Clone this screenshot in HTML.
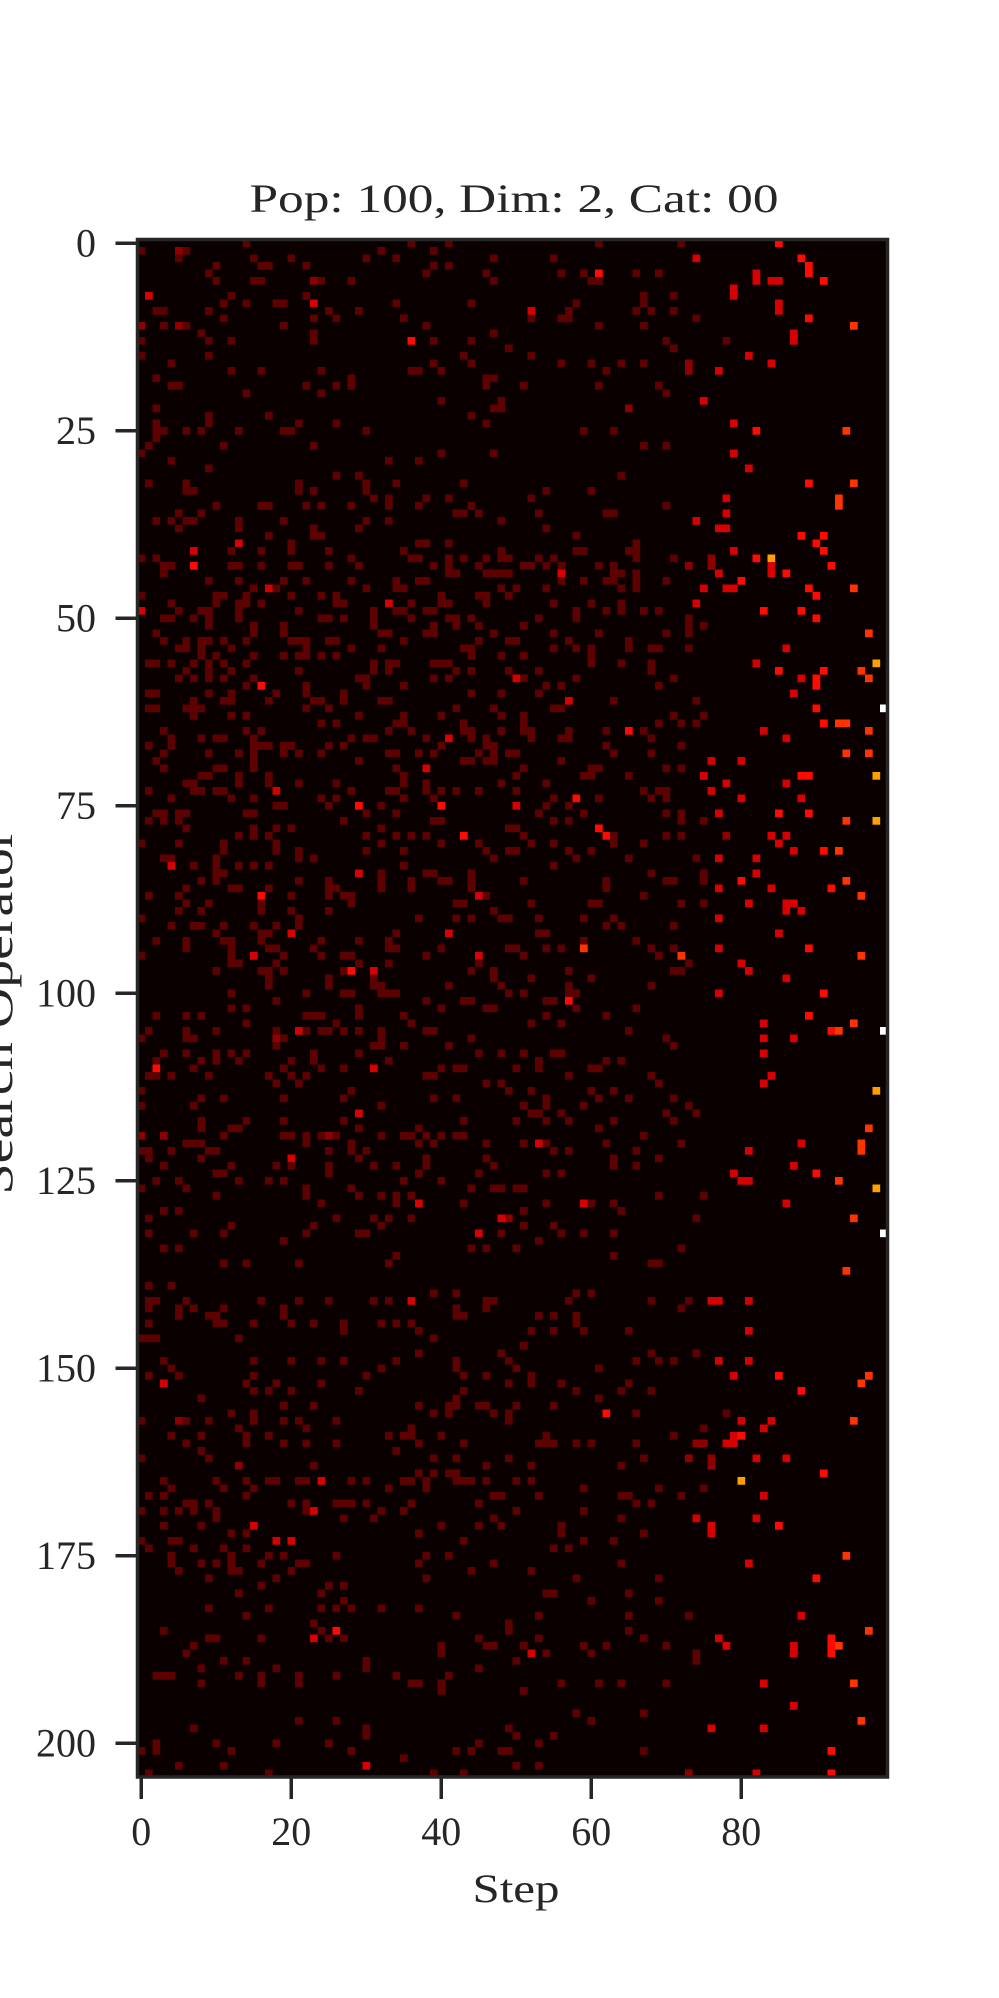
<!DOCTYPE html>
<html><head><meta charset="utf-8"><title>Heatmap</title>
<style>html,body{margin:0;padding:0;background:#fff}svg{display:block}</style></head>
<body>
<svg id="chart" width="999" height="1998" viewBox="0 0 999 1998" xmlns="http://www.w3.org/2000/svg" font-family="'Liberation Serif', serif" fill="#262626">
<rect x="0" y="0" width="999" height="1998" fill="#ffffff"/>
<text x="514" y="212" font-size="40" text-anchor="middle" textLength="529" lengthAdjust="spacingAndGlyphs">Pop: 100, Dim: 2, Cat: 00</text>
<g id="plot"></g>
<g id="yaxis"></g>
<g id="xaxis"></g>
<text x="516" y="1902" font-size="40" text-anchor="middle" textLength="87" lengthAdjust="spacingAndGlyphs">Step</text>
<text x="0" y="0" font-size="44" text-anchor="middle" textLength="365" lengthAdjust="spacingAndGlyphs" transform="translate(12,1012) rotate(-90)">Search Operator</text>
</svg>
<script>
const nSteps = 100;
const nOps = 205;
const xTicks = [0, 20, 40, 60, 80];
const yTicks = [0, 25, 50, 75, 100, 125, 150, 175, 200];
const levelColors = ['#0a0000','#5c0000','#8e0000','#d60000','#ff0a00','#ff3300','#ffa000','#ffffff'];
// cells per operator row: "step" (level 1) or "step:level"
const rowCells = [
"14 36 41 61 72 85:4",
"0 5:2 6 32 39",
"5 15 20 30 34 47 55 74:3 88:4",
"10 16 17 22 39 41 89:4",
"9 38 46 56 59 61:4 66 69 82:3 89:4",
"10 15 16 23:2 24 28 47 60 61 82:3 84:3 85:3 91:4",
"79:3",
"1:3 12 22 67 71 79:3",
"11 14 18 19 23:3 34 44 58 67 85:3",
"2 3 9 25 29 52:3 57 66 68 71 85:3",
"11 23 26 35 52 56 57 74 89:4",
"0:2 3 5:2 6 19 38 61 67 95:5",
"8 23 47 87:3",
"0 9 12 23 36:4 39 44 70 78 87:3",
"49 71",
"0 9 43 52 81:3",
"4 39 44 56 60 64 67 73:2 84:3",
"12 16 24 36 37 40 62 73:2 77:3",
"2 28 46 47",
"4 5 22 26 28 46 51 61 69",
"14 24 70",
"40 48 75:3",
"2 47 48 65:2",
"9 17 44",
"2 9 21 26 46 79:3",
"2 3 6 8 13 19 20 30 59 63 82:4 94:5",
"2",
"1 11 23 67 70",
"0 40 47 79:3",
"4 33 37",
"9 81:3",
"26 29 64",
"1 6 21 30 34 43 89:4 95:5",
"6 7 21 23 30 54 60",
"31 33 38 41 52 78:3 93:5",
"10 16 17 22 24 28 33 37 44 70 93:5",
"5 8 42 43 45 53 62 63 78:3",
"2 4 6 7 13 19 30 33 48 74:3",
"5 13 23 29 54 77:3 78:3",
"17 23 24 58 88:4 91:4",
"13:3 20 37 38 41 66 90:4",
"7:3 12 16 20 25 35 48 58 59 65 66 79:3 91:4",
"0 2 28 36 37 41 43 46 48 49 53 55 66 71 76:2 82:4 84:6",
"3 4 7:4 12 13 16 20 21 25 29 39 41 45 51 52 54 56 61 63 73:2 76:2 84:3 92:4",
"3 41 42 46 47 48 49 56:3 63 64 66 77:3 84:3 86:4",
"9 13 19 22 28 34 37 38 56 59 62 63 66 70 80:4",
"15 17:3 18 30 34 35 48 50 54 64 66 75:3 78:3 79:3 89:4 95:5",
"0 10 11 14 20 24 26 40 45 46 49 90:4",
"4 10 13 14 16 26 27 33:3 36 40 41 46 55 60 64 74:3",
"0:3 5 8 9 13 21 31 34 35 38 39 58 62 64 67 69 83:4 88:4",
"3 4 7 9 13 24 25 27 31 36 41 42 44 53 58 73 90:4",
"9 15 19 31 39 42 45 51 73 75",
"2 15 19 32 33 38 39 47 55 61 70 73 97:5",
"3 6 8 9 11 14 20 21 22 25 26 35 45 49 50 57 65",
"5 6 8 12 22 28 32 43 44 55 58 60 65 68 69 73 86:3",
"8 10 15 19 21 22 24 26 44 48 51 60",
"1 2 4 7 9 11 14 31 33 34 39 40 41 60 64 68 82:3 98:6",
"6 9 12 21 31 33 42 44 49 53 68 85:4 91:4 96:5",
"5 7 9 11 15 29 30 39 41 50:3 51 58 71 88:3 90:4 97:5",
"14 16:4 22 30 35 54 56 69 90:4",
"1 2 9 12 18 22 27 44 48 53 87:3",
"7 11 12 17 23 24 27 32 33 57:3 63 74",
"1 2 6 7 8 22 25 42 47 55 56 90:4 99:7",
"7 12 14 29 35 40 48 51 71 75",
"24 26 34 35 43 51 69 72 74 91:4 93:5 94:5",
"3 14 16 33 36 43 44 48 51 52 57 62 65:4 67 83:3 97:5",
"4 8 10 11 15 28 30 31 38 41:3 44 46 52 56 57 68 86:3",
"1 4 15 16 17 19 20 25 27 40 46 47 62 72",
"3 9 13 15 19 21 24 33 34 37 39 45 47 49 50 63 68 94:5 97:5",
"2 15 29 43 44 46 47 56 76:3 80:3",
"3 10 11 15 34 38:3 51 60 61 70 72",
"8 9 13 17 35 50 59 60 65 75:3 88:4 89:4 98:6",
"6 7 13 17 21 26 35 38 48 54 78:3 86:3",
"1 7 8 10 11 18:3 28 33 34 38 40 42 45 50 67 69 70 76:3",
"4 12 15 24 26 35 39 55 58:4 61 68 70 80:3 88:3",
"18 19 25 29:4 32 40:4 50:3 54 57",
"2 3 5 6 14 15 30 34 53 59 70 72 77:3 85:4 89:4",
"1 3 5 27 39 40 55 57 72 75 94:5 98:6",
"6 15 18 20 32 49 50 61:4",
"13 15 17 30 34 36 38 43:4 51 62:4 63 70 72 78:2 84:3 86:3",
"0 5 11 18 32 40 45 52 55 63 67 85:3",
"11 18 21 30 35 46 49 50 57 60 87:3 91:4 93:5",
"3 4 10 21 23 47 58 65 74 77:3 82:3",
"4:3 7 10 13 15 17 35 55",
"10 11 29:3 32 38 39 44 68 75 82:3",
"8 10 21 25 32 36 40 41 44 51 62 70 71 75 80:4 94:5",
"6 12 13 17 25 26 32 36 44 62 77:3 84:3 92:4",
"1 5 16:4 20 25 27 28 45:3 46 67 96:5",
"6 9 16 28 42 43 52 60 61 72 75 81:3 86:3 87:3",
"5 8 16 20 25 47 86:3 88:3",
"0 21 37 42 44 48 49 53 59 63 77:3",
"4 7 8 11 15 18 21 62 64 71",
"10 16 17 20:3 34 41:3 53 54 85:3",
"2 6 11 12 16 24 29 33 59 66",
"6 12 17 18 23 33 34 40 49 50 54 56 59:5 68 71 77:3 89:4",
"0 12 15:3 19 24 27 28 38 45:3 51 69 72:5 96:5",
"12 13 18 29 33 45 73 80:3",
"10 16 17 19 27 28:4 31:3 44 47 57 71 72 81:3",
"17 25 31 47 52 60 86:3",
"17 25 31 32 41 48 57 68",
"12 22 27 28 32 33 34 49 51 57 58 77:3 91:4",
"18 38 43 44 54 55 57:4",
"12 14 29 40 46 47 58 66",
"2 6 8 22 23 24 29 35 54 62 89:4",
"14 26 36 52 56 83:3 95:5",
"1 6 10 18 21:3 22 24 25 27 29 32 38 39 65 92:4 93:5 99:7",
"0 6 7 18:2 19 32 44 70 83:3 87:3",
"18 31 32 35 41 71",
"3 6 10 12 14 23 29 45 48 51 55 56 83:3",
"2 8 10 13 20 23 33 53 62 64",
"2:4 7 19 24 27 31:3 40 42 43 50 53 60 61",
"1 2 4 9 17 20 22 38 39 57 68 84:3",
"18 21 46 48 69 83:3",
"0 28 49 52 60 63 98:6",
"8 11 19 27 39 42 54 61 65 71",
"0 7 32 51 54 59 73",
"29:3 52 53 56 70 74",
"8 14 19 27 43 50 54 57 63 71",
"8 12 13 29 37 61 97:5",
"0:2 3:2 11 19 20 22 24 25:2 26 32 35 36 38 40 42 43 67",
"6 7 8 22 28 37 39 46 51 53:3 54 62 72 88:3 96:5",
"0 1 4 9 10 25 28 30 55 57 66 81:3 96:5",
"1 8 20:3 29 38 46 63 69",
"3 12 18 20 25 31 34 38 47 63 66 87:3",
"10 11 25 37 45 54 56 79:3 90:4",
"2 5 13 17 19 35 40 80:3 81:3 93:5",
"0 6 22 28 44 47 48 50 51 98:6",
"10 22 29 32 34 36 69 75",
"24 34 37:3 43 54 59:3 60 63 86:3",
"3 5 51 64",
"1 26 31 33 36 48:3 49:2 74 95:5",
"12 23 32 51 55",
"1 7 11 22 29 30 45:3 48 56 59 63 99:7",
"19 53",
"3 5 44 46 50 72",
"34 63",
"11 14 21 33 68 69",
"94:5",
"",
"1 4",
"39 42 58 60",
"1 2 6 16 21 25 31 33 36:3 46 47 57 68 73 76:3 77:3 81:3",
"1 5 7 11 19 42 46 72",
"5 9 10 19 42 43 53 55 58",
"1 10 11 15 20 23 27 32 34 36 58",
"27 37 52 55 59 65 81:3",
"0 1 2 13 39",
"51",
"37 48 68 74",
"3 15 20 24 27 34 42 49 66 69 71 77:3 81:3",
"4 32 42 50 61",
"1 5 15 30 43 46 52 79:3 85:4 97:5",
"3:3 14 18 24 49 52 56 65 96:5",
"15 17 20 29 43 58 64 68 88:4",
"8 42 61",
"19 23 37 41 42 45 46 50 55",
"12 15 39 41 47 49 62:4 66 78",
"0 5:2 6 9 15 19 21 26 49 80:3 84:3 95:5",
"13 22 36 75 83:3",
"4 8 14 17 33 35 36 40 54 71 79:3 80:4",
"6 14 19 22 26 37 43 53 54 55 58 60 66 74:2 75:2 78:3 79:3",
"8 34",
"0 9 39 42 49 67 73:2 76:2 82:3 86:3",
"13:2 23 46 52 64 76:2",
"37 39 41 42 91:4",
"3 10 14 17 18 21 22 24:3 28 30 35 36 38 42 43 44 46 50 52 80:6",
"4 11 15 33 38 59 69 75",
"1 3 14 47 48 53 64 65 72 83:3",
"6 7 9 20 22 26 27 28 30 36 45 66 68",
"0 3 5 7 10 22 23:3 32 35 50 59",
"10 27 31 47 64 74:3 82:3",
"3 8 15:3 40 45 48 56 76:3 85:4",
"12 14 37 56 67 76:3",
"0 4 5 18:3 20:3 43 59 63",
"1 7 11 14 55 57",
"4 12 17 19 26 38 41 94:5",
"4 8 10 12 16 21 22 37 47 64 81:3",
"5 12 13 20 44 52",
"9 18 38 58 69 90:4",
"16 25 27",
"13 24 54 55 65",
"27 60 69",
"9 17 24 26 28 32 37",
"14 42 53 65 73 88:3",
"23 49",
"3 24 26:4 49 65 97:5",
"9 10 16 23:3 25 27 45 53 67 77:3 92:4",
"7 40 46 47 51 59 62 70 78:3 87:3 92:4 93:5",
"6 40 52:3 54 60 74 87:3 92:4",
"11 14 30 50 74",
"8 18 30 45",
"2 3 4 13 16 21 26 34 41",
"8 16 21 36 37 40 56 61 64 70 83:3 95:5",
"40 51",
"",
"87:3",
"58 67",
"21 26 60 96:5",
"7 30 49 76:3 83:3",
"30 50 55",
"2 10 18 25 45 53",
"0 2 12 28 42 44 48 49 67 92:4",
"35",
"5 11 30:3 50 53",
"1 17 39 43 73:2 82:3 92:4"
];

const NS = 'http://www.w3.org/2000/svg';
const X0 = 137.5, Y0 = 239.5, CW = 7.5, CH = 7.5;
const xScale = s => X0 + s * CW;
const yScale = r => Y0 + r * CH;
function mk(tag, attrs) { const e = document.createElementNS(NS, tag); for (const k in attrs) e.setAttribute(k, attrs[k]); return e; }

const plot = document.getElementById('plot');
const bg = mk('rect', {x: X0, y: Y0, width: nSteps * CW, height: nOps * CH, fill: levelColors[0]});


plot.appendChild(bg);

rowCells.forEach((str, r) => {
  if (!str) return;
  str.split(' ').forEach(tok => {
    const parts = tok.split(':');
    const c = +parts[0], lv = parts.length > 1 ? +parts[1] : 1;
    const cell = mk('rect', {x: xScale(c), y: yScale(r), width: CW + 0.2, height: CH + 0.2, fill: levelColors[lv]});
    
    
    plot.appendChild(cell);
  });
});

const frame = mk('rect', {x: X0, y: Y0, width: nSteps * CW, height: nOps * CH, fill: 'none', stroke: '#262626', 'stroke-width': 3.5});


plot.appendChild(frame);

const yaxis = document.getElementById('yaxis');
yTicks.forEach(v => {
  const y = yScale(v + 0.5);
  const t = mk('line', {x1: X0 - 22, x2: X0, y1: y, y2: y, stroke: '#262626', 'stroke-width': 3.5});
  
  
  yaxis.appendChild(t);
  const l = mk('text', {x: 96, y: y + 13, 'font-size': 40, 'text-anchor': 'end'});
  
  
  l.textContent = v;
  yaxis.appendChild(l);
});

const xaxis = document.getElementById('xaxis');
const yB = Y0 + nOps * CH;
xTicks.forEach(v => {
  const x = xScale(v + 0.5);
  const t = mk('line', {x1: x, x2: x, y1: yB, y2: yB + 22, stroke: '#262626', 'stroke-width': 3.5});
  
  
  xaxis.appendChild(t);
  const l = mk('text', {x: x, y: 1845, 'font-size': 40, 'text-anchor': 'middle'});
  
  
  l.textContent = v;
  xaxis.appendChild(l);
});
</script>
</body></html>
